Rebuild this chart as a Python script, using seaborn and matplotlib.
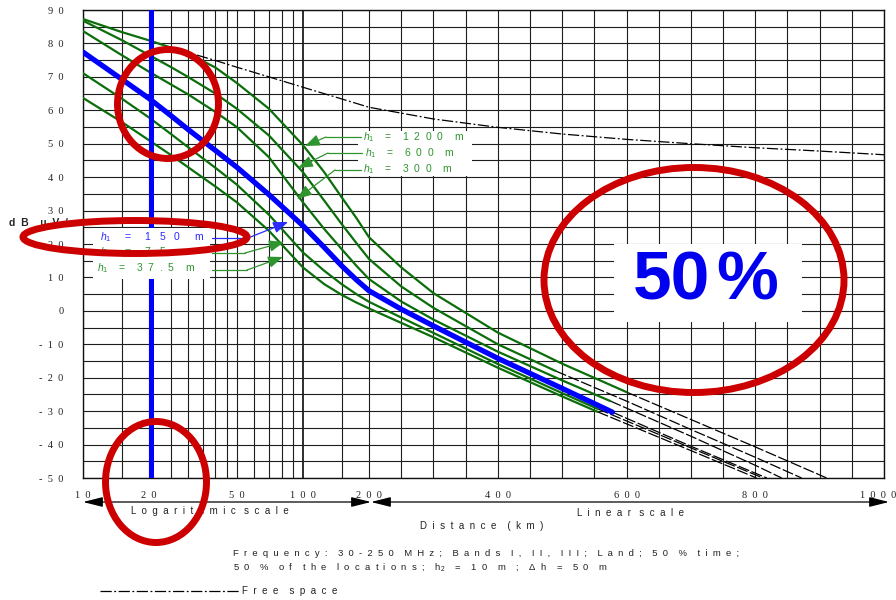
import numpy as np
import pandas as pd
import matplotlib
matplotlib.use("Agg")
import matplotlib.pyplot as plt
import matplotlib.transforms as mtransforms
import seaborn as sns
from matplotlib.patches import Ellipse, Rectangle
from matplotlib.ticker import NullLocator

# ---------------- data ----------------
D_1200 = [10, 15, 20, 25, 30, 40, 50, 70, 100, 125, 150, 175, 200, 250, 300, 400, 500, 600]
E_1200 = [87.3, 83.4, 80.9, 78.8, 77.0, 72.8, 68.2, 60.5, 49.6, 41.5, 34.0, 27.8, 22.0, 13.0, 5.3, -6.5, -15.8, -24.3]
D_600 = [10, 15, 20, 25, 30, 40, 50, 70, 100, 125, 150, 175, 200, 250, 300, 400, 490]
E_600 = [86.8, 81.0, 76.5, 73.0, 70.0, 65.0, 60.5, 52.5, 41.5, 33.0, 26.0, 20.3, 15.5, 7.3, 0.9, -10.0, -18.0]
D_300 = [10, 15, 20, 25, 30, 40, 50, 70, 100, 125, 150, 175, 200, 250, 300, 400, 500, 575]
E_300 = [83.7, 76.5, 71.5, 67.8, 64.8, 59.5, 55.0, 46.0, 32.5, 24.5, 18.5, 13.5, 9.5, 2.8, -2.6, -12.2, -20.8, -27.0]
D_150 = [10, 15, 20, 25, 30, 40, 50, 70, 100, 125, 150, 175, 200, 250, 300, 400, 500, 578]
E_150 = [77.4, 69.3, 63.5, 58.5, 54.3, 48.0, 43.0, 34.8, 25.5, 19.0, 13.5, 9.3, 6.0, 0.5, -4.5, -14.2, -23.2, -30.3]
D_75 = [10, 15, 20, 25, 30, 40, 50, 70, 100, 125, 150, 175, 200, 250, 300, 400, 500, 555]
E_75 = [71.1, 63.5, 57.8, 53.0, 49.0, 42.8, 37.8, 28.8, 17.5, 12.0, 8.0, 5.0, 2.7, -2.0, -6.6, -15.9, -24.6, -29.3]
D_37 = [10, 15, 20, 25, 30, 40, 50, 70, 100, 125, 150, 175, 200, 250, 300, 400, 500, 555]
E_37 = [63.7, 56.5, 51.0, 46.7, 43.0, 37.2, 32.5, 24.0, 13.0, 8.0, 4.8, 2.5, 0.7, -3.6, -7.9, -17.0, -25.6, -30.2]

# black continuations (extrapolated part of the original curves)
XD_1200 = [600, 700, 800, 911]
XE_1200 = [-24.3, -32.5, -40.7, -50.0]
XD_600 = [490, 600, 700, 800, 872]
XE_600 = [-18.0, -27.0, -35.5, -43.8, -50.0]
XD_300 = [575, 700, 800, 841]
XE_300 = [-27.0, -37.5, -46.2, -50.0]
XD_150 = [578, 700, 818]
XE_150 = [-30.3, -40.5, -50.0]
XD_75 = [555, 700, 812]
XE_75 = [-29.3, -41.0, -50.0]
XD_37 = [555, 700, 802]
XE_37 = [-30.2, -41.8, -50.0]

# free space
FS_D = [33, 40, 50, 70, 100, 150, 200, 300, 400, 500, 600, 700, 800, 900, 1000]
FS_E = [76.5, 74.9, 72.9, 70.0, 66.9, 63.4, 60.9, 57.4, 54.9, 52.9, 51.3, 50.0, 48.8, 47.8, 46.7]

X_TICKS = [10, 20, 50, 100, 200, 400, 600, 800, 1000]
Y_TICKS = list(range(-50, 91, 10))
GRID_D = [10, 15, 20, 25, 30, 35, 40, 45, 50, 60, 70, 80, 90, 100, 150] + list(range(200, 1001, 50))
GRID_E = list(range(-50, 91, 5))
MARK_D = 20.3

# ---------------- styling ----------------
sns.set_theme(style="white")
plt.rcParams["font.family"] = ["Liberation Sans", "DejaVu Sans"]
plt.rcParams["mathtext.fontset"] = "custom"
plt.rcParams["mathtext.it"] = "Liberation Sans:italic"
plt.rcParams["mathtext.rm"] = "Liberation Sans"

W, H = 896, 600
fig = plt.figure(figsize=(W / 100, H / 100), dpi=100)
fig.patch.set_facecolor("white")
ax = fig.add_axes([83 / W, 1 - 478 / H, (884 - 83) / W, (478 - 10) / H])

LOG_END = 200.0
K = 0.644 / 220.0
U0 = np.log10(LOG_END / 10.0)


def fwd(d):
    d = np.asarray(d, dtype=float)
    dd = np.clip(d, 1e-6, None)
    return np.where(d <= LOG_END, np.log10(dd / 10.0), U0 + (d - LOG_END) * K)


def inv(u):
    u = np.asarray(u, dtype=float)
    return np.where(u <= U0, 10.0 * 10.0 ** np.clip(u, -6, 6), LOG_END + (u - U0) / K)


ax.set_xscale("function", functions=(fwd, inv))
ax.set_xlim(10, 1000)
ax.set_ylim(-50, 90)

GRID_C = "#1e1e1e"
for g in GRID_D:
    ax.axvline(g, color=GRID_C, lw=1.3 if g in (100,) else 0.8, zorder=1)
for g in GRID_E:
    ax.axhline(g, color=GRID_C, lw=0.8, zorder=1)

GREEN = "#0b6e0b"
BLUE = "#0000ff"

sns.lineplot(x=FS_D, y=FS_E, ax=ax, color="black", lw=0.9, estimator=None, sort=False,
             linestyle=(0, (9, 2, 1.5, 2)), zorder=2)

for xd, xe in [(XD_1200, XE_1200), (XD_600, XE_600), (XD_300, XE_300),
               (XD_150, XE_150), (XD_75, XE_75), (XD_37, XE_37)]:
    sns.lineplot(x=xd, y=xe, ax=ax, color="black", lw=0.9, estimator=None, sort=False,
                 linestyle=(0, (9, 2)), zorder=2)

for dd, ee in [(D_1200, E_1200), (D_600, E_600), (D_300, E_300), (D_75, E_75), (D_37, E_37)]:
    sns.lineplot(x=dd, y=ee, ax=ax, color=GREEN, lw=1.6, estimator=None, sort=False, zorder=3)
sns.lineplot(x=D_150, y=E_150, ax=ax, color=BLUE, lw=3.8, estimator=None, sort=False, zorder=3.5)

ax.axvline(MARK_D, color=BLUE, lw=3.6, zorder=4)


def sp(s, n=1):
    return (" " * n).join(s)


ax.set_xticks(X_TICKS)
ax.set_xticklabels([sp(str(v), 2) for v in X_TICKS], fontfamily="Liberation Serif", fontsize=7.5)
ax.xaxis.set_minor_locator(NullLocator())
ax.set_yticks(Y_TICKS)
ax.set_yticklabels([sp(str(v), 2) for v in Y_TICKS], fontfamily="Liberation Serif", fontsize=7.5)
ax.yaxis.set_minor_locator(NullLocator())
ax.tick_params(axis="both", length=0, colors="#222222")
ax.tick_params(axis="y", pad=14)
ax.tick_params(axis="x", pad=9)
last = ax.get_xticklabels()[-1]
last.set_transform(last.get_transform() + mtransforms.ScaledTranslation(-6 / 100, 0, fig.dpi_scale_trans))
for s in ax.spines.values():
    s.set_color("#111111")
    s.set_linewidth(1.0)
ax.grid(False)

# ---------------- overlay in pixel coordinates ----------------
ov = fig.add_axes([0, 0, 1, 1], zorder=10)
ov.set_xlim(0, W)
ov.set_ylim(H, 0)
ov.axis("off")
ov.patch.set_alpha(0)

ov.text(9, 223, sp("dB", 2) + "    " + sp("μV/m", 2), fontsize=7.5, fontweight="bold",
        va="center", ha="left", zorder=1)

# white label boxes
ov.add_patch(Rectangle((93, 228), 117, 51, facecolor="white", edgecolor="none", zorder=2))
ov.add_patch(Rectangle((358, 131), 114, 45, facecolor="white", edgecolor="none", zorder=2))
ov.add_patch(Rectangle((614, 244), 188, 78, facecolor="white", edgecolor="none", zorder=2))

LG = "#2e952e"
LB = "#2a2aff"


def hlabel(x, y, val, color, gap=4, n=2):
    g = " " * gap
    ov.text(x, y, r"$h_1$" + g + "=" + g + sp(val, n) + g + "m", fontsize=7.5, color=color,
            va="center", ha="left", zorder=3)


def leader(pts, color):
    xs = [p[0] for p in pts[:-1]]
    ys = [p[1] for p in pts[:-1]]
    ov.plot(xs, ys, color=color, lw=0.9, zorder=3)
    ov.annotate("", xy=pts[-1], xytext=pts[-2],
                arrowprops=dict(arrowstyle="-|>,head_length=0.9,head_width=0.35",
                                color=color, lw=0.9, mutation_scale=10,
                                shrinkA=0, shrinkB=0), zorder=3)


hlabel(363, 137, "1200", LG)
hlabel(365, 153, "600", LG)
hlabel(363, 169, "300", LG)
hlabel(100, 237, "150", LB, gap=5, n=3)
hlabel(100, 252, "75", LG, gap=5, n=3)
hlabel(97, 268, "37.5", LG, gap=4, n=2)
leader([(361, 137), (326, 137), (305, 146)], LG)
leader([(362, 153), (328, 153), (298, 168)], LG)
leader([(361, 170), (335, 170), (297, 199)], LG)
leader([(212, 238), (248, 238), (288, 222)], LB)
leader([(212, 253), (245, 253), (284, 242)], LG)
leader([(212, 270), (247, 270), (283, 257)], LG)

ov.text(710, 282, "50", fontsize=50, fontweight="bold", color="#0000ee",
        ha="right", va="center", zorder=4)
ov.text(716, 282, "%", fontsize=50, fontweight="bold", color="#0000ee",
        ha="left", va="center", zorder=4)

# red highlight ellipses
RED = "#cc0000"
for cx, cy, w, h in [(168, 104, 101, 109), (135, 237, 224, 33), (156, 482, 101, 121), (694, 280, 300, 225)]:
    ov.add_patch(Ellipse((cx, cy), w, h, facecolor="none", edgecolor=RED, lw=5, zorder=6))

# distance scale arrows
AR = dict(arrowstyle="<|-|>,head_length=1.2,head_width=0.3", color="black", lw=0.9,
          mutation_scale=10, shrinkA=0, shrinkB=0)
ov.annotate("", xy=(83, 502), xytext=(371, 502), arrowprops=AR)
ov.annotate("", xy=(371, 502), xytext=(889, 502), arrowprops=AR)

TXT = dict(fontsize=7, color="#222222", va="center", ha="left")


def spaced(text, n=2, gap=4):
    return (" " * gap).join(sp(w, n) for w in text.split())


ov.text(131, 511, spaced("Logarithmic scale", 2, 3), **TXT)
ov.text(577, 513, spaced("Linear scale", 2, 3), **TXT)
ov.text(420, 526, spaced("Distance (km)", 2, 4), **TXT)
ov.text(233, 553, spaced("Frequency: 30-250 MHz; Bands I, II, III; Land; 50 % time;", 2, 4), fontsize=6.8,
        color="#222222", va="center", ha="left")
ov.text(233, 567, spaced("50 % of the locations;", 2, 4) + "    " + "h$_2$" + "    " +
        spaced("= 10 m ; Δh = 50 m", 2, 4), fontsize=6.8, color="#222222", va="center", ha="left")
ov.plot([100, 240], [591, 591], color="black", lw=0.9, linestyle=(0, (9, 2, 1.5, 2)))
ov.text(242, 591, spaced("Free space", 2, 4), **TXT)

fig.savefig("out.png", dpi=100, facecolor="white")
